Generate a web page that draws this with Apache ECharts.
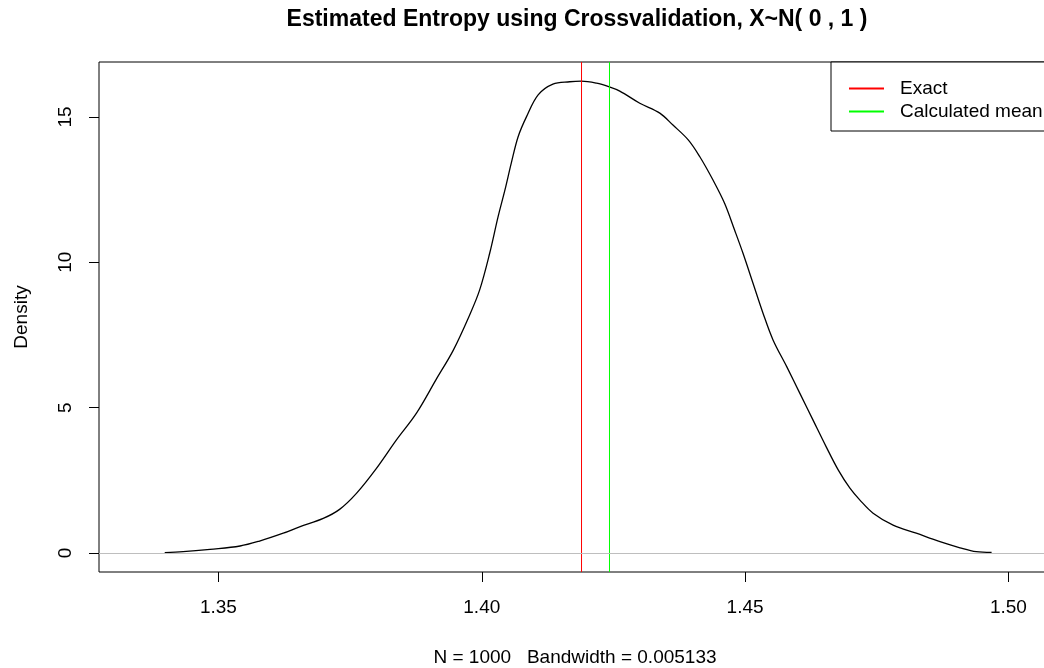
<!DOCTYPE html>
<html>
<head>
<meta charset="utf-8">
<script src="https://cdn.jsdelivr.net/npm/echarts@6/dist/echarts.min.js"></script>
<style>
html, body { margin: 0; padding: 0; overflow: hidden; background: #fff; }
#chart { width: 1060px; height: 668px; }
</style>
</head>
<body>
<div id="chart"></div>
<script>
// Density estimate (x = entropy estimate, y = density)
const densityX = [1.3398, 1.3433, 1.3484, 1.3541, 1.3578, 1.3623, 1.3654, 1.3699, 1.3730, 1.3762,
  1.3800, 1.3838, 1.3876, 1.3914, 1.3946, 1.3977, 1.3996, 1.4015, 1.4031, 1.4044,
  1.4056, 1.4069, 1.4085, 1.4107, 1.4135, 1.4167, 1.4189, 1.4218, 1.4241, 1.4262,
  1.4300, 1.4338, 1.4363, 1.4392, 1.4414, 1.4439, 1.4461, 1.4480, 1.4496, 1.4515,
  1.4534, 1.4553, 1.4579, 1.4604, 1.4629, 1.4654, 1.4677, 1.4699, 1.4718, 1.4743,
  1.4781, 1.4825, 1.4870, 1.4908, 1.4939, 1.4968];
const densityY = [0.01, 0.045, 0.127, 0.24, 0.41, 0.68, 0.90, 1.19, 1.50, 2.05,
  2.91, 3.89, 4.81, 5.99, 6.98, 8.19, 9.05, 10.31, 11.57, 12.49,
  13.41, 14.32, 15.01, 15.76, 16.13, 16.21, 16.23, 16.16, 16.04, 15.89,
  15.47, 15.13, 14.72, 14.21, 13.63, 12.83, 12.03, 11.11, 10.31, 9.28,
  8.25, 7.33, 6.41, 5.49, 4.57, 3.65, 2.85, 2.23, 1.82, 1.37,
  0.96, 0.68, 0.39, 0.18, 0.045, 0.02];
const exactValue = 1.418939;
const meanValue = 1.42425;
const xTicks = [1.35, 1.40, 1.45, 1.50];
const yTicks = [0, 5, 10, 15];
const xLimits = [1.32732, 1.50808];
const yLimits = [-0.654, 16.89];
const legendNames = ['Exact', 'Calculated mean'];
const titleText = 'Estimated Entropy using Crossvalidation, X~N( 0 , 1 )';
const subText = 'N = 1000   Bandwidth = 0.005133';
const yName = 'Density';

const densityData = densityX.map((x, i) => [x, densityY[i]]);
const FONT = '"Liberation Sans", Arial, sans-serif';

function vline(name, x, color) {
  return {
    name: name,
    type: 'line',
    data: [[x, yLimits[0]], [x, yLimits[1]]],
    showSymbol: false,
    symbol: 'none',
    color: color,
    itemStyle: { color: color },
    lineStyle: { color: color, width: 1 },
    z: 3
  };
}

const chart = echarts.init(document.getElementById('chart'), null, { renderer: 'canvas' });
chart.setOption({
  animation: false,
  backgroundColor: '#ffffff',
  title: {
    text: titleText,
    left: 572,
    textAlign: 'center',
    top: 3,
    textStyle: { fontFamily: FONT, fontSize: 23, fontWeight: 'bold', color: '#000' }
  },
  legend: {
    data: legendNames,
    orient: 'vertical',
    left: 831,
    top: 62,
    padding: [17, 12, 10, 18],
    itemWidth: 35,
    itemHeight: 2,
    itemGap: 4,
    icon: 'rect',
    backgroundColor: '#fff',
    borderColor: '#000',
    borderWidth: 1,
    borderRadius: 0,
    textStyle: { fontFamily: FONT, fontSize: 19, lineHeight: 19, color: '#000', padding: [0, 0, 0, 11] }
  },
  grid: {
    left: 99, top: 62, width: 952, height: 510,
    show: true, borderColor: '#000', borderWidth: 1, backgroundColor: 'transparent',
    outerBoundsMode: 'none'
  },
  xAxis: {
    type: 'value',
    position: 'bottom',
    min: xLimits[0],
    max: xLimits[1],
    name: subText,
    nameLocation: 'middle',
    nameGap: 76,
    nameTextStyle: { fontFamily: FONT, fontSize: 19, color: '#000' },
    // onZero points at an axis whose range has no zero, so the axis stays at the bottom edge
    axisLine: { show: false, onZeroAxisIndex: 1 },
    splitLine: { show: false },
    axisTick: { show: true, inside: false, length: 10, customValues: xTicks, lineStyle: { color: '#000', width: 1 } },
    axisLabel: { customValues: xTicks, margin: 26, fontFamily: FONT, fontSize: 19, color: '#000',
      formatter: v => Number(v).toFixed(2) }
  },
  yAxis: [
    {
      type: 'value',
      position: 'left',
      min: yLimits[0],
      max: yLimits[1],
      name: yName,
      nameLocation: 'middle',
      nameGap: 68,
      nameTextStyle: { fontFamily: FONT, fontSize: 19, color: '#000' },
      axisLine: { show: false },
      splitLine: { show: false },
      axisTick: { show: true, inside: false, length: 10, customValues: yTicks, lineStyle: { color: '#000', width: 1 } },
      axisLabel: { customValues: yTicks, margin: 24, rotate: 90, fontFamily: FONT, fontSize: 19, color: '#000' }
    },
    {
      type: 'value',
      show: false,
      min: 1,
      max: 2
    }
  ],
  series: [
    {
      name: 'density',
      type: 'line',
      data: densityData,
      showSymbol: false,
      symbol: 'none',
      smooth: 0.35,
      lineStyle: { color: '#000', width: 1.3 },
      z: 2,
      markLine: {
        silent: true, symbol: 'none', label: { show: false },
        lineStyle: { color: '#bebebe', width: 1, type: 'solid' },
        data: [{ yAxis: 0 }]
      }
    },
    vline(legendNames[0], exactValue, '#ff0000'),
    vline(legendNames[1], meanValue, '#00ff00')
  ]
});
</script>
</body>
</html>
